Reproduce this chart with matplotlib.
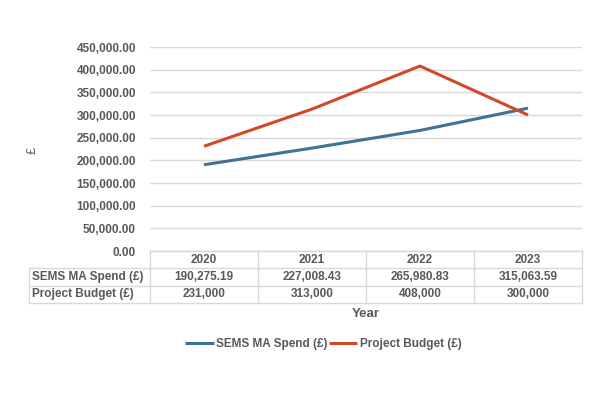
import matplotlib as mpl
mpl.use('Agg')
import matplotlib.pyplot as plt
from matplotlib.ticker import FuncFormatter

years = ['2020', '2021', '2022', '2023']
sems_spend = [190275.19, 227008.43, 265980.83, 315063.59]
project_budget = [231000, 313000, 408000, 300000]
sems_labels = ['190,275.19', '227,008.43', '265,980.83', '315,063.59']
budget_labels = ['231,000', '313,000', '408,000', '300,000']
series_names = ['SEMS MA Spend (£)', 'Project Budget (£)']

blue = '#3F7396'
red = '#D2492A'
grey = '#595959'
gridc = '#D9D9D9'

plt.rcParams['font.family'] = ['Liberation Sans', 'DejaVu Sans']

fig = plt.figure(figsize=(6, 4), dpi=100)
ax = fig.add_axes([0.25, 0.3725, 0.72, 0.51])

x = range(len(years))
ax.plot(x, sems_spend, color=blue, lw=2.2, solid_capstyle='butt', label=series_names[0])
ax.plot(x, project_budget, color=red, lw=2.2, solid_capstyle='butt', label=series_names[1])

ax.set_xlim(-0.5, len(years) - 0.5)
ax.set_ylim(0, 450000)
ax.set_yticks(range(0, 450001, 50000))
ax.yaxis.set_major_formatter(FuncFormatter(lambda v, p: '{:,.2f}'.format(v)))
ax.grid(axis='y', color=gridc, lw=1)
ax.set_axisbelow(True)
ax.tick_params(axis='y', length=0, pad=10, labelsize=8.5, labelcolor=grey)
for lab in ax.get_yticklabels():
    lab.set_fontweight('bold')
ax.set_xticks([])
for s in ax.spines.values():
    s.set_visible(False)
fig.text(0.055, 0.625, '£', rotation=90, ha='center', va='center', fontsize=9, color=grey)

# data table below the plot
h = 17.3 / 204.0
x_left = (29 - 150) / 432.0
n = len(years)
tr = ax.transAxes
kw = dict(transform=tr, clip_on=False, color=gridc, lw=1)
# horizontal lines
ax.plot([0, 1], [0, 0], **kw)
for r in range(1, 4):
    ax.plot([x_left, 1], [-r * h, -r * h], **kw)
# vertical lines
ax.plot([x_left, x_left], [-h, -3 * h], **kw)
for c in range(n + 1):
    ax.plot([c / n, c / n], [0, -3 * h], **kw)

txt = dict(transform=tr, ha='center', va='center', fontsize=8.5, color=grey, fontweight='bold')
for c in range(n):
    cx = (c + 0.5) / n
    ax.text(cx, -0.5 * h, years[c], **txt)
    ax.text(cx, -1.5 * h, sems_labels[c], **txt)
    ax.text(cx, -2.5 * h, budget_labels[c], **txt)
for r, name in enumerate(series_names):
    ax.text(x_left + 0.008, -(r + 1.5) * h, name, transform=tr, ha='left', va='center',
            fontsize=8.5, color=grey, fontweight='bold')

ax.text(0.5, -3 * h - 0.055, 'Year', transform=tr, ha='center', va='center',
        fontsize=9.5, color=grey, fontweight='bold')

leg = fig.legend(loc='center', bbox_to_anchor=(0.539, 0.14), ncol=2, frameon=False,
                 handlelength=2.4, handletextpad=0.2, columnspacing=0.1,
                 prop={'size': 8.5, 'weight': 'bold'})
for t in leg.get_texts():
    t.set_color(grey)

fig.savefig('out.png', dpi=100)
